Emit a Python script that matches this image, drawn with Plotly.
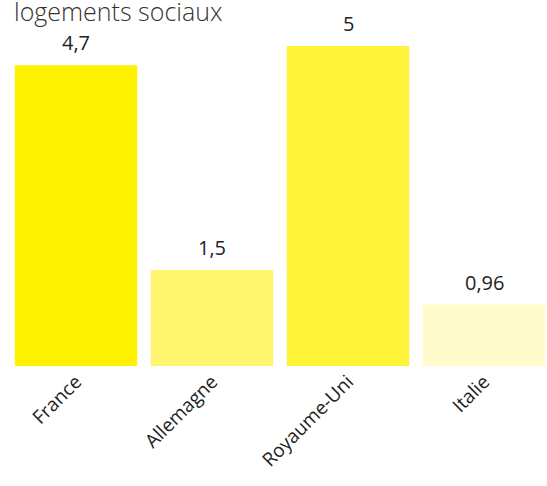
import plotly.graph_objects as go

categories = ["France", "Allemagne", "Royaume-Uni", "Italie"]
values = [4.7, 1.5, 5.0, 0.96]
value_labels = ["4,7", "1,5", "5", "0,96"]
colors = ["#FFF200", "#FFF56E", "#FFF33A", "#FFFBCC"]
title_text = "logements sociaux"

fig = go.Figure()
fig.add_trace(go.Bar(
    x=categories, y=values,
    marker=dict(color=colors, line=dict(width=0)),
    hoverinfo="skip",
))

for c, v, t in zip(categories, values, value_labels):
    fig.add_annotation(x=c, y=v, text=t, showarrow=False,
                       yanchor="bottom", yshift=7,
                       font=dict(family="Open Sans", size=20, color="#222222"))

fig.add_annotation(xref="paper", yref="paper", x=0, y=1, xanchor="left", yanchor="top",
                   xshift=4, yshift=8, text=title_text, showarrow=False,
                   font=dict(family="Open Sans", size=25, color="#333333", weight=300))

fig.update_layout(
    width=547, height=486,
    margin=dict(l=8, r=0, t=0, b=120),
    paper_bgcolor="white", plot_bgcolor="white",
    bargap=0.1,
    showlegend=False,
    xaxis=dict(range=[-0.5, 3.463], tickangle=-45, showline=False, showgrid=False,
               ticks="", tickfont=dict(family="Open Sans", size=19, color="#222222"),
               fixedrange=True),
    yaxis=dict(range=[0, 5.72], visible=False, showgrid=False, zeroline=False,
               fixedrange=True),
)

fig.write_html("out.html", config={"displayModeBar": False},
               post_script="document.body.style.margin='0';")
